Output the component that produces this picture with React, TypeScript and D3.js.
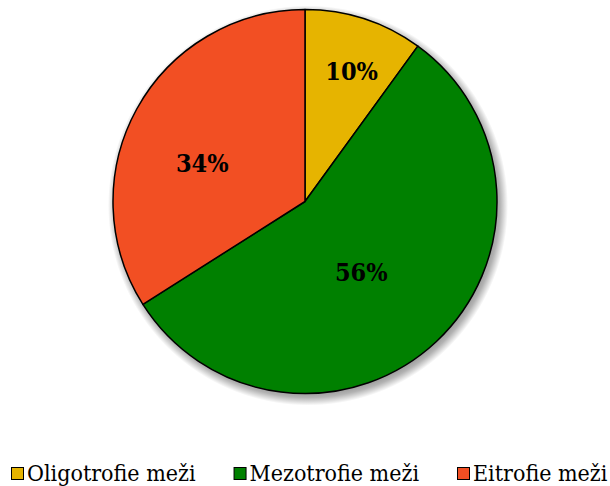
import * as d3 from "d3";
import { useEffect, useRef } from "react";

const categories = ["Oligotrofie meži", "Mezotrofie meži", "Eitrofie meži"];
const shares = [10, 56, 34];
const colors = ["#E6B400", "#008000", "#F24F23"];
// where Excel put each percentage label, as fraction of the radius
const labelRadius = [0.72, 0.47, 0.57];
const labelTurn = [0.03, 0.08, -0.15];

const width = 610;
const height = 486;
const cx = 305;
const cy = 201.5;
const radius = 192;
const font = "DejaVu Serif Condensed, DejaVu Serif";

const App = () => {
  const legendRef = useRef<SVGGElement>(null);

  const pie = d3
    .pie<number>()
    .sort(null)
    .value((d) => d);
  const arcs = pie(shares);
  const arc = d3.arc<d3.PieArcDatum<number>>().innerRadius(0).outerRadius(radius);

  useEffect(() => {
    const g = d3.select(legendRef.current);
    g.selectAll("*").remove();
    let x = 11;
    categories.forEach((name, i) => {
      g.append("rect")
        .attr("x", x + 0.5)
        .attr("y", 467.5)
        .attr("width", 12)
        .attr("height", 12)
        .attr("fill", colors[i])
        .attr("stroke", "#000")
        .attr("stroke-width", 1);
      const t = g
        .append("text")
        .attr("x", x + 16)
        .attr("y", 481)
        .attr("font-family", font)
        .attr("font-stretch", "condensed")
        .attr("font-size", 23)
        .attr("fill", "#000")
        .text(name);
      const w = (t.node() as SVGTextElement).getComputedTextLength();
      x += 16 + w + 38;
    });
  }, []);

  const shadowStop = radius / (radius + 8);

  return (
    <svg width={width} height={height} style={{ position: "absolute", left: 0, top: 0 }}>
      <defs>
        <radialGradient id="shadow" cx="0" cy="0" r={radius + 8} gradientUnits="userSpaceOnUse">
          <stop offset={shadowStop - 0.04} stopColor="#000" stopOpacity={0.45} />
          <stop offset={shadowStop} stopColor="#000" stopOpacity={0.3} />
          <stop offset={1} stopColor="#000" stopOpacity={0} />
        </radialGradient>
      </defs>
      <g transform={`translate(${cx}, ${cy})`}>
        <circle transform="translate(3, 4)" r={radius + 8} fill="url(#shadow)" />
        {arcs.map((a, i) => (
          <path
            key={categories[i]}
            d={arc(a) ?? ""}
            fill={colors[i]}
            stroke="#000"
            strokeWidth={1.5}
            strokeLinejoin="round"
          />
        ))}
        {arcs.map((a, i) => {
          const mid = (a.startAngle + a.endAngle) / 2 + labelTurn[i];
          const r = radius * labelRadius[i];
          return (
            <text
              key={"l" + i}
              x={Math.sin(mid) * r}
              y={-Math.cos(mid) * r}
              dy="0.35em"
              textAnchor="middle"
              fontFamily={font}
              fontStretch="condensed"
              fontWeight="bold"
              fontSize={25}
              fill="#000"
            >
              {d3.format(".0f")(shares[i])}%
            </text>
          );
        })}
      </g>
      <g ref={legendRef} />
    </svg>
  );
};

export default App;
